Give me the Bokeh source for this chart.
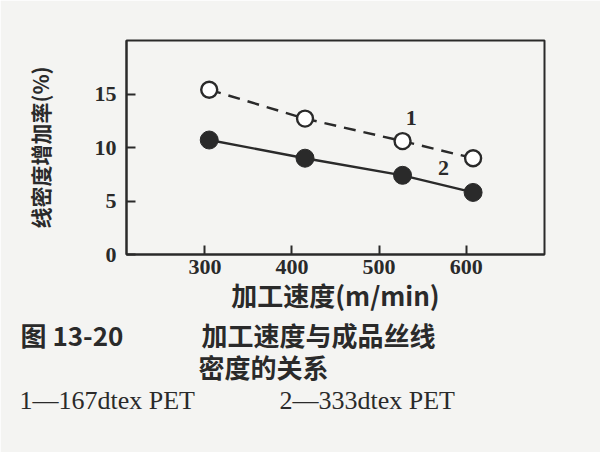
from bokeh.plotting import figure
from bokeh.models import Range1d, Label, FixedTicker, Title
from bokeh.embed import file_html
from bokeh.resources import INLINE

# ---- data ----
speed = [305, 415, 527, 608]          # 加工速度 (m/min)
dens_167 = [15.4, 12.7, 10.6, 9.0]    # 1 — 167dtex PET (open circles, dashed)
dens_333 = [10.7, 9.0, 7.4, 5.8]      # 2 — 333dtex PET (filled circles, solid)
x_ticks = [300, 400, 500, 600]
y_ticks = [0, 5, 10, 15]
series_names = ["1", "2"]
x_label = "加工速度(m/min)"
y_label = "线密度增加率(%)"
caption_1 = "图 13-20\u3000\u3000\u3000加工速度与成品丝线"
caption_2 = "密度的关系"
legend_text = "1—167dtex PET" + "\u00a0" * 13 + "2—333dtex PET"

INK = "#2a2a2a"
BG = "#f4f4f2"
SERIF = "Liberation Serif"
CJK = "Noto Sans CJK SC"

W, H = 600, 452
FL, FR, FT, FB = 126, 544, 40, 254
X0, X1, Y0, Y1 = 210, 690, 0, 20

p = figure(width=W, height=H, x_range=Range1d(X0, X1), y_range=Range1d(Y0, Y1),
           output_backend="svg", toolbar_location=None,
           min_border_left=FL, min_border_right=W - FR,
           min_border_top=FT, min_border_bottom=H - FB)
p.background_fill_color = BG
p.border_fill_color = BG
p.outline_line_color = INK
p.outline_line_width = 2
p.grid.visible = False

for ax in (p.xaxis[0], p.yaxis[0]):
    ax.axis_line_color = INK
    ax.axis_line_width = 2
    ax.major_tick_line_color = INK
    ax.major_tick_line_width = 2
    ax.major_tick_in = 9
    ax.major_tick_out = 0
    ax.minor_tick_line_color = None
    ax.major_label_text_font = SERIF
    ax.major_label_text_font_style = "bold"
    ax.major_label_text_font_size = "22px"
    ax.major_label_text_color = INK
    ax.axis_label_text_font = CJK
    ax.axis_label_text_font_style = "bold"
    ax.axis_label_text_color = INK

p.xaxis[0].ticker = FixedTicker(ticks=x_ticks)
p.yaxis[0].ticker = FixedTicker(ticks=y_ticks)
p.xaxis[0].axis_label = x_label
p.yaxis[0].axis_label = y_label
p.xaxis[0].axis_label_text_font_size = "26px"
p.yaxis[0].axis_label_text_font_size = "21px"
p.xaxis[0].major_label_standoff = 5
p.xaxis[0].axis_label_standoff = -1
p.yaxis[0].major_label_standoff = 10
p.yaxis[0].axis_label_standoff = 37

# series 1: dashed with open circles
p.line(speed, dens_167, line_color=INK, line_width=2.4, line_dash="12 8")
p.scatter(speed, dens_167, marker="circle", size=16, fill_color="white",
          line_color=INK, line_width=2.4)
# series 2: solid with filled circles
p.line(speed, dens_333, line_color=INK, line_width=2.4)
p.scatter(speed, dens_333, marker="circle", size=18, fill_color=INK,
          line_color=INK, line_width=1)

# series labels (data coords)
p.add_layout(Label(x=537, y=12.8, text=series_names[0], text_font=SERIF,
                   text_font_size="22px", text_font_style="bold", text_color=INK,
                   text_align="center", text_baseline="middle"))
p.add_layout(Label(x=574, y=8.1, text=series_names[1], text_font=SERIF,
                   text_font_size="22px", text_font_style="bold", text_color=INK,
                   text_align="center", text_baseline="middle"))

# ---- caption rows, stacked below the x axis ----
def cap(text, font, size, x_px, style="bold", standoff=4):
    t = Title(text=text, align="left", offset=x_px - FL, standoff=standoff,
              text_font=font, text_font_size=size, text_font_style=style,
              text_color=INK)
    p.add_layout(t, "below")

cap(caption_1, CJK, "26px", 20, standoff=-4)
cap(caption_2, CJK, "26px", 198, standoff=-10)
cap(legend_text, SERIF, "26px", 19, style="normal", standoff=9)

open("out.html", "w").write(file_html(p, INLINE))
